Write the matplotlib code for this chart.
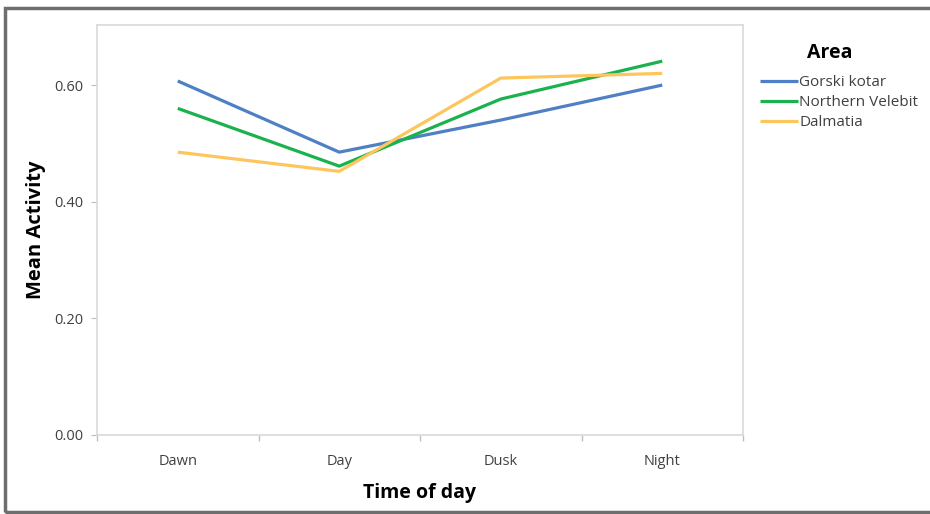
import matplotlib
matplotlib.use("Agg")
import matplotlib.pyplot as plt
from matplotlib.patches import Rectangle

plt.rcParams['font.family'] = ['Open Sans', 'DejaVu Sans']

# 数据
times = ['Dawn', 'Day', 'Dusk', 'Night']
gorski = [0.607, 0.485, 0.540, 0.600]
velebit = [0.560, 0.461, 0.576, 0.641]
dalmatia = [0.485, 0.452, 0.612, 0.620]
series_names = ['Gorski kotar', 'Northern Velebit', 'Dalmatia']
colors = ['#4F7FC4', '#1BB24E', '#FDC65C']
y_ticks = [0.0, 0.2, 0.4, 0.6]

W, H = 930, 514
fig = plt.figure(figsize=(W / 100, H / 100), dpi=100)
ax = fig.add_axes([97 / W, 1 - 435 / H, (743 - 97) / W, (435 - 25) / H])

x = list(range(len(times)))
for vals, name, c in zip([gorski, velebit, dalmatia], series_names, colors):
    ax.plot(x, vals, color=c, lw=2.3, label=name, solid_capstyle='butt')

ax.set_xlim(-0.5, len(times) - 0.5)
ax.set_ylim(0, 0.703)
ax.set_yticks(y_ticks)
ax.set_yticklabels(['%.2f' % v for v in y_ticks])
# 类别标签在中间, 刻度线在类别之间
ax.set_xticks([i - 0.5 for i in range(len(times) + 1)])
ax.set_xticklabels([])
ax.set_xticks(x, minor=True)
ax.set_xticklabels(times, minor=True)
ax.tick_params(axis='x', which='minor', length=0, pad=14, labelsize=10.5, labelcolor='#404040')
ax.tick_params(axis='x', which='major', length=4, color='#bfbfbf', width=1)
ax.tick_params(axis='y', length=4, color='#bfbfbf', labelsize=10.5, labelcolor='#404040', pad=6)

for s in ax.spines.values():
    s.set_color('#d9d9d9')
    s.set_linewidth(1.2)

ax.set_ylabel('Mean Activity', fontsize=14.5, fontweight='bold', labelpad=6)
ax.set_xlabel('Time of day', fontsize=14, fontweight='bold', labelpad=10)

# 图例 (标题单独画)
leg = ax.legend(loc='upper left', bbox_to_anchor=(1.017, 0.893), frameon=False,
                fontsize=11, handlelength=2.5, handletextpad=0.05,
                labelspacing=0.34, borderaxespad=0)
for t in leg.get_texts():
    t.set_color('#404040')
fig.text(830 / W, 1 - 53 / H, 'Area', fontsize=14, fontweight='bold',
         ha='center', va='center')

# 外框
fig.patches.append(Rectangle((5 / W, 2 / H), (940 - 5) / W, (506 - 2) / H,
                             transform=fig.transFigure, fill=False,
                             edgecolor='#6e6e6e', lw=2.5))

fig.savefig('out.png', dpi=100)
